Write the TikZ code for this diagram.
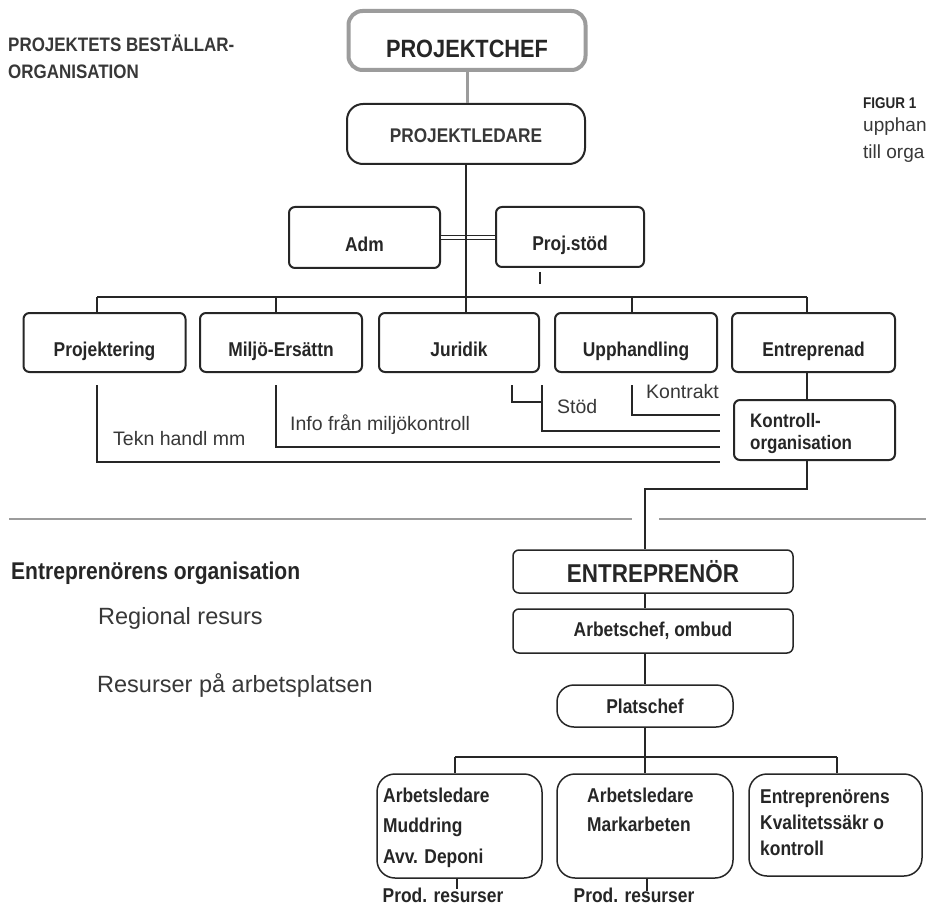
\documentclass[tikz,border=0pt]{standalone}
\usepackage{fontspec}
\setmainfont{Liberation Sans}
\newfontfamily\condbf[FakeStretch=0.87]{Liberation Sans Bold}
\usetikzlibrary{positioning}
\definecolor{ink}{HTML}{262626}
\definecolor{soft}{HTML}{383838}
\definecolor{frame}{HTML}{9C9C9C}

\tikzset{
  box/.style={draw=ink, line width=2pt, rounded corners=6pt, inner sep=0pt, text=ink,
    font=\condbf\fontsize{20}{22}\selectfont, text height=29pt, text depth=1pt},
  thinbox/.style={draw=ink, line width=1.5pt, rounded corners=6pt, inner sep=0pt, text=ink,
    font=\condbf\fontsize{20}{22}\selectfont},
  link/.style={draw=ink, line width=2pt},
  thinlink/.style={draw=ink, line width=1.4pt},
  note/.style={anchor=west, inner sep=0pt, text=soft, font=\fontsize{19.5}{22}\selectfont,
    text height=14pt, text depth=4pt},
  boxtext/.style={anchor=north west, inner sep=0pt, align=left, text=ink},
}

\begin{document}
\begin{tikzpicture}[x=1pt, y=-1pt]
    \fill[white] (0,0) rectangle (926,909);
    \useasboundingbox (0,0) rectangle (926,909);

    % bestallarorganisation
    \node[anchor=west, inner sep=0pt, align=left, text=soft,
      font=\condbf\fontsize{19.5}{27}\selectfont] (title) at (8,57) {PROJEKTETS BESTÄLLAR-\\ORGANISATION};

    \node[box, draw=frame, line width=4pt, rounded corners=14pt, minimum width=237pt, minimum height=59pt,
      font=\condbf\fontsize{25}{27}\selectfont, text height=35pt] (chef) at (467,40.5) {PROJEKTCHEF};
    \node[box, rounded corners=16pt, minimum width=238pt, minimum height=60pt,
      font=\condbf\fontsize{19.8}{22}\selectfont, text=soft, text height=19pt] (ledare) at (466,134) {PROJEKTLEDARE};
    \draw[frame, line width=3pt] (chef.south) -- (chef.south |- ledare.north);

    \node[box, minimum width=151pt, minimum height=61pt] (adm) at (364.5,237.5) {Adm};
    \node[box, minimum width=148pt, minimum height=60pt] (stod) at (570,237) {Proj.stöd};
    \draw[draw=ink, double=white, double distance=2.4pt, line width=1.5pt] (adm.east) -- (adm.east -| stod.west);

    \coordinate (stubA) at (540,272);
    \coordinate (stubB) at (540,284);
    \draw[link] (stubA) -- (stubB);

    \node[box, minimum width=162pt, minimum height=59pt] (proj) at (104.5,342.5) {Projektering};
    \node[box, minimum width=162pt, minimum height=59pt] (milj) at (281,342.5) {Miljö-Ersättn};
    \node[box, minimum width=160pt, minimum height=59pt] (jur) at (459,342.5) {Juridik};
    \node[box, minimum width=162pt, minimum height=59pt] (upph) at (636,342.5) {Upphandling};
    \node[box, minimum width=163pt, minimum height=59pt] (entr) at (813.5,342.5) {Entreprenad};

    \coordinate (busL) at (97,297);
    \coordinate (busR) at (807,297);
    \coordinate (dM) at (276,297);
    \coordinate (dU) at (632,297);
    \draw[link, line width=2.6pt] (busL) -- (busR);
    \draw[link] (ledare.south) -- (ledare.south |- jur.north);
    \draw[link] (busL) -- (busL |- proj.north);
    \draw[link] (dM) -- (dM |- milj.north);
    \draw[link] (dU) -- (dU |- upph.north);
    \draw[link] (busR) -- (busR |- entr.north);

    \node[box, minimum width=161pt, minimum height=60pt, text height=0pt, text depth=0pt] (ctrl) at (814.5,430) {};
    \node[boxtext, font=\condbf\fontsize{19.5}{21.5}\selectfont] (ctrltxt) at (750,413.5) {Kontroll-\\organisation};
    \draw[link] (busR |- entr.south) -- (busR |- ctrl.north);

    % informationsvagar till kontrollorganisationen
    \coordinate (cin) at ([xshift=-13pt]ctrl.west);
    \coordinate (teknA) at (97,385);
    \coordinate (teknB) at (97,462);
    \coordinate (infoA) at (276,385);
    \coordinate (infoB) at (276,447);
    \coordinate (jurA) at (512,385);
    \coordinate (jurB) at (512,402);
    \coordinate (stodA) at (542,385);
    \coordinate (stodB) at (542,431);
    \coordinate (kontrA) at (632,385);
    \coordinate (kontrB) at (632,415);
    \draw[link] (teknA) -- (teknB) -- (cin |- teknB);
    \draw[link] (infoA) -- (infoB) -- (cin |- infoB);
    \draw[link] (jurA) -- (jurB) -- (stodA |- jurB);
    \draw[link] (stodA) -- (stodB) -- (cin |- stodB);
    \draw[link] (kontrA) -- (kontrB) -- (cin |- kontrB);

    \node[note] (tekn) at (113,440) {Tekn handl mm};
    \node[note] (info) at (290,425) {Info från miljökontroll};
    \node[note] (stodlbl) at (557,408) {Stöd};
    \node[note] (kontr) at (646,393) {Kontrakt};

    \node[anchor=west, inner sep=0pt, text=ink, font=\condbf\fontsize{15.5}{17}\selectfont] (fig) at (863,103) {FIGUR 1};
    \node[anchor=west, inner sep=0pt, text=soft, font=\fontsize{19}{22}\selectfont] (figA) at (863,127) {upphan};
    \node[anchor=west, inner sep=0pt, text=soft, font=\fontsize{19}{22}\selectfont] (figB) at (863,154) {till orga};

    % grans mellan organisationerna
    \draw[frame, line width=2.6pt] (9,519) -- (632,519);
    \draw[frame, line width=2.6pt] (659,519) -- (926,519);

    % entreprenorens organisation
    \node[anchor=west, inner sep=0pt, text=ink, font=\condbf\fontsize{24.2}{26}\selectfont] (eorg) at (11,573) {Entreprenörens organisation};
    \node[anchor=west, inner sep=0pt, text=soft, font=\fontsize{23.5}{26}\selectfont] (regional) at (98,618) {Regional resurs};
    \node[anchor=west, inner sep=0pt, text=soft, font=\fontsize{23.5}{26}\selectfont] (platsres) at (97,685) {Resurser på arbetsplatsen};

    \node[thinbox, minimum width=280pt, minimum height=43pt, font=\condbf\fontsize{25.8}{27}\selectfont] (entre) at (653,571.5) {ENTREPRENÖR};
    \node[thinbox, minimum width=280pt, minimum height=44pt] (arb) at (653,631) {Arbetschef, ombud};
    \node[thinbox, rounded corners=17pt, minimum width=176pt, minimum height=42pt] (plats) at (645,706) {Platschef};

    \coordinate (kneeA) at (807,489);
    \coordinate (kneeB) at (645,489);
    \draw[link] (busR |- ctrl.south) -- (kneeA) -- (kneeB) -- (kneeB |- entre.north);
    \draw[thinlink] (kneeB |- entre.south) -- (kneeB |- arb.north);
    \draw[thinlink] (plats.north |- arb.south) -- (plats.north);

    \node[thinbox, rounded corners=18pt, minimum width=165pt, minimum height=104pt] (led1) at (459.5,826) {};
    \node[thinbox, rounded corners=18pt, minimum width=176pt, minimum height=104pt] (led2) at (645,826) {};
    \node[thinbox, rounded corners=18pt, minimum width=173pt, minimum height=102pt] (kval) at (835.5,825) {};
    \node[boxtext, font=\condbf\fontsize{20}{30.5}\selectfont] (led1txt) at (383,787.6) {Arbetsledare\\Muddring\\Avv. Deponi};
    \node[boxtext, font=\condbf\fontsize{20}{29}\selectfont] (led2txt) at (587,787.6) {Arbetsledare\\Markarbeten};
    \node[boxtext, font=\condbf\fontsize{20}{26}\selectfont] (kvaltxt) at (760,789.6) {Entreprenörens\\Kvalitetssäkr o\\kontroll};

    \coordinate (busBL) at (455,757);
    \coordinate (busBR) at (837,757);
    \draw[thinlink] (plats.south) -- (plats.south |- busBL);
    \draw[thinlink] (busBL) -- (busBR);
    \draw[thinlink] (busBL) -- (busBL |- led1.north);
    \draw[thinlink] (plats.south |- busBL) -- (plats.south |- led2.north);
    \draw[thinlink] (busBR) -- (busBR |- kval.north);

    \coordinate (prodA) at (457,889);
    \coordinate (prodB) at (647,891);
    \draw[thinlink] (prodA |- led1.south) -- (prodA);
    \draw[thinlink] (prodB |- led2.south) -- (prodB);
    \node[inner sep=0pt, text=ink, font=\condbf\fontsize{20}{22}\selectfont] (prod1) at (443,895) {Prod. resurser};
    \node[inner sep=0pt, text=ink, font=\condbf\fontsize{20}{22}\selectfont] (prod2) at (634,895) {Prod. resurser};
\end{tikzpicture}
\end{document}
